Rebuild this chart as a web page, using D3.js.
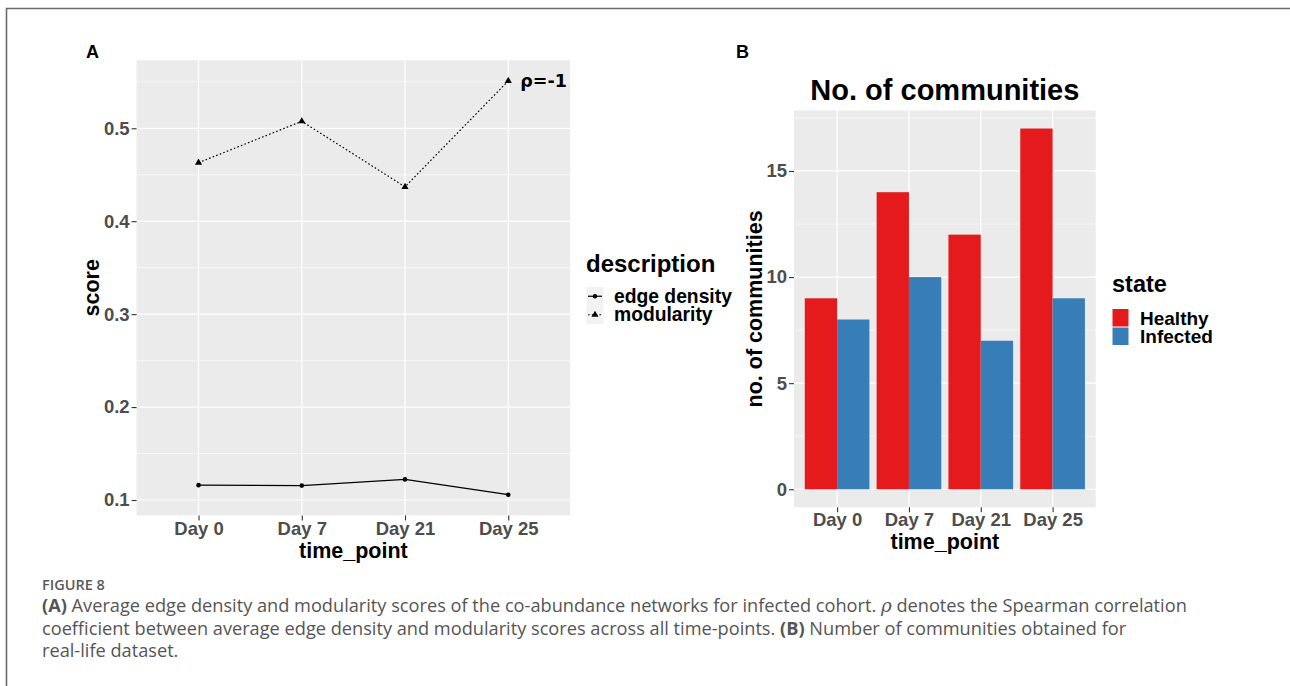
<!DOCTYPE html>
<html>
<head>
<meta charset="utf-8">
<script src="https://cdn.jsdelivr.net/npm/d3@7"></script>
<style>
  html, body { margin: 0; padding: 0; background: #fff; }
  svg { display: block; }
</style>
</head>
<body>
<svg id="fig" width="1290" height="686"></svg>
<script>
// ---- data ----
const timePoints = ["Day 0", "Day 7", "Day 21", "Day 25"];
const edgeDensity = [0.116, 0.1155, 0.1222, 0.1057];
const modularity = [0.463, 0.5075, 0.437, 0.551];
const scoreTicks = [0.1, 0.2, 0.3, 0.4, 0.5];
const scoreMinor = [0.15, 0.25, 0.35, 0.45, 0.55];

const states = ["Healthy", "Infected"];
const healthyCounts = [9, 14, 12, 17];
const infectedCounts = [8, 10, 7, 9];
const countTicks = [0, 5, 10, 15];
const countMinor = [2.5, 7.5, 12.5, 17.5];
const stateColors = ["#E41A1C", "#377EB8"];

const svg = d3.select("#fig");
const FONT = "'Liberation Sans', Arial, Helvetica, sans-serif";
const PANEL_BG = "#EBEBEB";
const TICK_TXT = "#4D4D4D";

// frame around the figure
svg.append("path")
  .attr("d", "M6.5,686 L6.5,8.5 L1290,8.5")
  .attr("fill", "none").attr("stroke", "#6b6b6b").attr("stroke-width", 1.6);

// ggplot-like expansion helper (5% continuous)
function expand(lo, hi) { const d = (hi - lo) * 0.05; return [lo - d, hi + d]; }

function styleAxis(ax) {
  ax.select(".domain").remove();
  ax.selectAll(".tick line").attr("stroke", "#333").attr("stroke-width", 1.1);
  ax.selectAll(".tick text").attr("fill", TICK_TXT)
    .style("font-family", FONT).style("font-weight", "bold").style("font-size", "18.5px");
}

// ================= Panel A =================
const A = { left: 136.6, right: 570.2, top: 60.2, bottom: 515.4 };
const gA = svg.append("g");

const xA = d3.scalePoint().domain(timePoints).range([A.left, A.right]).padding(0.6);
const allScores = edgeDensity.concat(modularity);
const yA = d3.scaleLinear().domain(expand(d3.min(allScores), d3.max(allScores))).range([A.bottom, A.top]);

gA.append("rect").attr("x", A.left).attr("y", A.top)
  .attr("width", A.right - A.left).attr("height", A.bottom - A.top).attr("fill", PANEL_BG);

gA.selectAll("line.minorY").data(scoreMinor).join("line")
  .attr("x1", A.left).attr("x2", A.right)
  .attr("y1", d => yA(d)).attr("y2", d => yA(d))
  .attr("stroke", "#fff").attr("stroke-width", 0.6);
gA.selectAll("line.majorY").data(scoreTicks).join("line")
  .attr("x1", A.left).attr("x2", A.right)
  .attr("y1", d => yA(d)).attr("y2", d => yA(d))
  .attr("stroke", "#fff").attr("stroke-width", 1.2);
gA.selectAll("line.majorX").data(timePoints).join("line")
  .attr("x1", d => xA(d)).attr("x2", d => xA(d))
  .attr("y1", A.top).attr("y2", A.bottom)
  .attr("stroke", "#fff").attr("stroke-width", 1.2);

// axes
const axAy = gA.append("g").attr("transform", `translate(${A.left},0)`)
  .call(d3.axisLeft(yA).tickValues(scoreTicks).tickFormat(d3.format(".1f")).tickSize(5).tickPadding(2));
const axAx = gA.append("g").attr("transform", `translate(0,${A.bottom})`)
  .call(d3.axisBottom(xA).tickSize(5).tickPadding(1));
styleAxis(axAy); styleAxis(axAx);

// series
const lineA = d3.line().x((d, i) => xA(timePoints[i])).y(d => yA(d));
gA.append("path").datum(edgeDensity).attr("d", lineA)
  .attr("fill", "none").attr("stroke", "#000").attr("stroke-width", 1.3);
gA.append("path").datum(modularity).attr("d", lineA)
  .attr("fill", "none").attr("stroke", "#000").attr("stroke-width", 1.2)
  .attr("stroke-dasharray", "1.6,2.2");
gA.selectAll("circle.ed").data(edgeDensity).join("circle")
  .attr("cx", (d, i) => xA(timePoints[i])).attr("cy", d => yA(d)).attr("r", 2.3).attr("fill", "#000");
const tri = d3.symbol().type(d3.symbolTriangle).size(22);
gA.selectAll("path.mod").data(modularity).join("path")
  .attr("d", tri)
  .attr("transform", (d, i) => `translate(${xA(timePoints[i])},${yA(d)})`).attr("fill", "#000");

// annotation
gA.append("text").attr("x", xA("Day 25") + 12).attr("y", yA(modularity[3]) + 6)
  .text("ρ=-1")
  .style("font-family", "'DejaVu Sans', sans-serif").style("font-weight", "bold").style("font-size", "17.5px");

// titles
gA.append("text").attr("x", (A.left + A.right) / 2).attr("y", 558).attr("text-anchor", "middle")
  .text("time_point").style("font-family", FONT).style("font-weight", "bold").style("font-size", "21.5px");
gA.append("text").attr("transform", `translate(99,${(A.top + A.bottom) / 2}) rotate(-90)`)
  .attr("text-anchor", "middle")
  .text("score").style("font-family", FONT).style("font-weight", "bold").style("font-size", "21.5px");
gA.append("text").attr("x", 86).attr("y", 58).text("A")
  .style("font-family", FONT).style("font-weight", "bold").style("font-size", "18px");

// legend A
const legA = gA.append("g");
legA.append("text").attr("x", 586).attr("y", 272).text("description")
  .style("font-family", FONT).style("font-weight", "bold").style("font-size", "24px");
const descNames = ["edge density", "modularity"];
descNames.forEach((name, i) => {
  const ky = 287 + i * 18.5;
  legA.append("rect").attr("x", 586.5).attr("y", ky).attr("width", 17).attr("height", 18.5).attr("fill", "#F2F2F2");
  const cy = ky + 9.25;
  legA.append("line").attr("x1", 588).attr("x2", 602).attr("y1", cy).attr("y2", cy)
    .attr("stroke", "#000").attr("stroke-width", 1.2)
    .attr("stroke-dasharray", i === 1 ? "1.6,2.2" : null);
  if (i === 0) legA.append("circle").attr("cx", 595).attr("cy", cy).attr("r", 2.2).attr("fill", "#000");
  else legA.append("path").attr("d", tri).attr("transform", `translate(595,${cy})`).attr("fill", "#000");
  legA.append("text").attr("x", 614).attr("y", cy + 6.5).text(name)
    .style("font-family", FONT).style("font-weight", "bold").style("font-size", "19.3px");
});

// ================= Panel B =================
const B = { left: 794, right: 1095.7, top: 110.5, bottom: 507.3 };
const gB = svg.append("g");
const xB = d3.scalePoint().domain(timePoints).range([B.left, B.right]).padding(0.6);
const stepB = xB.step();
const xInner = d3.scaleBand().domain(states).range([-0.45 * stepB, 0.45 * stepB]).padding(0);
const maxCount = d3.max(healthyCounts.concat(infectedCounts));
const yB = d3.scaleLinear().domain(expand(0, maxCount)).range([B.bottom, B.top]);

gB.append("rect").attr("x", B.left).attr("y", B.top)
  .attr("width", B.right - B.left).attr("height", B.bottom - B.top).attr("fill", PANEL_BG);
gB.selectAll("line.minorY").data(countMinor).join("line")
  .attr("x1", B.left).attr("x2", B.right)
  .attr("y1", d => yB(d)).attr("y2", d => yB(d))
  .attr("stroke", "#fff").attr("stroke-width", 0.6);
gB.selectAll("line.majorY").data(countTicks).join("line")
  .attr("x1", B.left).attr("x2", B.right)
  .attr("y1", d => yB(d)).attr("y2", d => yB(d))
  .attr("stroke", "#fff").attr("stroke-width", 1.2);
gB.selectAll("line.majorX").data(timePoints).join("line")
  .attr("x1", d => xB(d)).attr("x2", d => xB(d))
  .attr("y1", B.top).attr("y2", B.bottom)
  .attr("stroke", "#fff").attr("stroke-width", 1.2);

const barRows = [];
timePoints.forEach((t, i) => {
  barRows.push({ t, state: states[0], v: healthyCounts[i] });
  barRows.push({ t, state: states[1], v: infectedCounts[i] });
});
gB.selectAll("rect.bar").data(barRows).join("rect")
  .attr("x", d => xB(d.t) + xInner(d.state))
  .attr("width", xInner.bandwidth())
  .attr("y", d => yB(d.v))
  .attr("height", d => yB(0) - yB(d.v))
  .attr("fill", d => stateColors[states.indexOf(d.state)]);

const axBy = gB.append("g").attr("transform", `translate(${B.left},0)`)
  .call(d3.axisLeft(yB).tickValues(countTicks).tickFormat(d3.format("d")).tickSize(5).tickPadding(2));
const axBx = gB.append("g").attr("transform", `translate(0,${B.bottom})`)
  .call(d3.axisBottom(xB).tickSize(5).tickPadding(1));
styleAxis(axBy); styleAxis(axBx);

gB.append("text").attr("x", (B.left + B.right) / 2).attr("y", 100).attr("text-anchor", "middle")
  .text("No. of communities").style("font-family", FONT).style("font-weight", "bold").style("font-size", "29px");
gB.append("text").attr("x", (B.left + B.right) / 2).attr("y", 549).attr("text-anchor", "middle")
  .text("time_point").style("font-family", FONT).style("font-weight", "bold").style("font-size", "21.5px");
gB.append("text").attr("transform", `translate(762,${(B.top + B.bottom) / 2}) rotate(-90)`)
  .attr("text-anchor", "middle")
  .text("no. of communities").style("font-family", FONT).style("font-weight", "bold").style("font-size", "21.5px");
gB.append("text").attr("x", 736).attr("y", 58).text("B")
  .style("font-family", FONT).style("font-weight", "bold").style("font-size", "18px");

// legend B
const legB = gB.append("g");
legB.append("text").attr("x", 1112).attr("y", 292).text("state")
  .style("font-family", FONT).style("font-weight", "bold").style("font-size", "23.5px");
states.forEach((s, i) => {
  const ky = 308.5 + i * 18.5;
  legB.append("rect").attr("x", 1112.5).attr("y", ky + 0.5).attr("width", 16).attr("height", 17.5)
    .attr("fill", stateColors[i]);
  legB.append("text").attr("x", 1140).attr("y", ky + 16).text(s)
    .style("font-family", FONT).style("font-weight", "bold").style("font-size", "19px");
});

// ================= Caption =================
const CAP = "'Open Sans', 'Noto Sans', sans-serif";
svg.append("text").attr("x", 42).attr("y", 590).text("FIGURE 8")
  .style("font-family", CAP).style("font-size", "14.5px").style("font-weight", "600").attr("fill", "#5a5a5a");
const capLines = [
  [["(A)", "b"], [" Average edge density and modularity scores of the co-abundance networks for infected cohort. ", "n"], ["ρ", "i"], [" denotes the Spearman correlation", "n"]],
  [["coefficient between average edge density and modularity scores across all time-points. ", "n"], ["(B)", "b"], [" Number of communities obtained for", "n"]],
  [["real-life dataset.", "n"]]
];
capLines.forEach((parts, li) => {
  const t = svg.append("text").attr("x", 42).attr("y", 612 + li * 22.5)
    .style("font-family", CAP).style("font-size", "18.2px").attr("fill", "#555");
  parts.forEach(([txt, kind]) => {
    const ts = t.append("tspan").text(txt);
    if (kind === "b") ts.style("font-weight", "bold");
    if (kind === "i") ts.style("font-style", "italic").style("font-family", "'DejaVu Serif', serif");
  });
});
</script>
</body>
</html>
